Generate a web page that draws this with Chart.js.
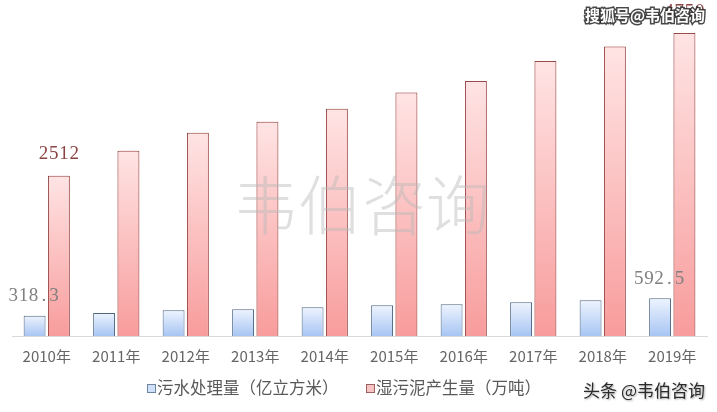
<!DOCTYPE html>
<html>
<head>
<meta charset="utf-8">
<script src="https://cdn.jsdelivr.net/npm/chart.js@4.4.1/dist/chart.umd.min.js"></script>
<style>
    html, body { margin: 0; padding: 0; background: #ffffff; }
    #wrap { width: 717px; height: 412px; position: relative; }
</style>
</head>
<body>
<div id="wrap"><canvas id="sludgeChart" width="717" height="412"></canvas></div>
<script>
    // 年份
    var years = ['2010年', '2011年', '2012年', '2013年', '2014年', '2015年', '2016年', '2017年', '2018年', '2019年'];
    // 污水处理量（亿立方米）
    var sewageValues = [318.3, 362, 405, 420, 450, 482, 498, 530, 560, 592.5];
    // 湿污泥产生量（万吨）
    var sludgeValues = [2512, 2904, 3184, 3360, 3560, 3815, 3998, 4310, 4537, 4750];
    var seriesNames = ['污水处理量（亿立方米）', '湿污泥产生量（万吨）'];

    var CJK = '"Noto Sans CJK SC", "Noto Sans", sans-serif';
    var NUM = '"Liberation Serif", "DejaVu Serif", serif';

    // dégradé vertical propre à chaque barre
    function barGradient(topColor, bottomColor) {
        return function (context) {
            var chart = context.chart;
            var y = chart.scales.y;
            if (!y || !chart.chartArea || context.raw == null) {
                return bottomColor;
            }
            var yTop = y.getPixelForValue(context.raw);
            var yBase = y.getPixelForValue(0);
            if (!isFinite(yTop) || !isFinite(yBase) || yTop === yBase) {
                return bottomColor;
            }
            var g = chart.ctx.createLinearGradient(0, yTop, 0, yBase);
            g.addColorStop(0, topColor);
            g.addColorStop(1, bottomColor);
            return g;
        };
    }

    // chiffres à chasse fixe, façon SimSun
    function drawMono(ctx, text, cx, cy, advance) {
        var startX = cx - (text.length * advance) / 2;
        for (var i = 0; i < text.length; i++) {
            ctx.fillText(text[i], startX + advance * i + advance / 2, cy);
        }
    }

    var glowPlugin = {
        id: 'glow',
        beforeDatasetDraw: function (chart, args) {
            if (args.index === 1) {
                chart.ctx.save();
                chart.ctx.shadowColor = 'rgba(245, 120, 120, 0.45)';
                chart.ctx.shadowBlur = 8;
            }
        },
        afterDatasetDraw: function (chart, args) {
            if (args.index === 1) {
                chart.ctx.restore();
            }
        }
    };

    var decorPlugin = {
        id: 'decor',
        afterDatasetsDraw: function (chart) {
            var ctx = chart.ctx;
            var blue = chart.getDatasetMeta(0).data;
            var red = chart.getDatasetMeta(1).data;
            ctx.save();
            ctx.textAlign = 'center';
            ctx.textBaseline = 'middle';

            // étiquettes de valeurs (première et dernière année)
            ctx.font = '19px ' + NUM;
            ctx.fillStyle = '#8a4444';
            drawMono(ctx, String(sludgeValues[0]), red[0].x, red[0].y - 22, 10.2);
            drawMono(ctx, String(sludgeValues[9]), red[9].x, red[9].y - 21, 10.2);
            ctx.fillStyle = '#7f7f7f';
            drawMono(ctx, String(sewageValues[0]), blue[0].x - 1, blue[0].y - 20, 10.2);
            drawMono(ctx, String(sewageValues[9]), blue[9].x - 1, blue[9].y - 19, 10.2);

            // filigrane central
            ctx.font = '300 64px ' + CJK;
            ctx.fillStyle = 'rgba(185, 185, 185, 0.45)';
            ctx.fillText('韦伯咨询', 362, 205);

            // légende
            var legendY = 388;
            ctx.textAlign = 'left';
            ctx.font = '16.5px ' + CJK;
            var boxes = [
                { x: 147, fill: '#cfe0f8', stroke: '#6d86a3', label: seriesNames[0] },
                { x: 366, fill: '#f6c4c2', stroke: '#9b6060', label: seriesNames[1] }
            ];
            boxes.forEach(function (b) {
                ctx.fillStyle = b.fill;
                ctx.fillRect(b.x, legendY - 4, 8, 8);
                ctx.strokeStyle = b.stroke;
                ctx.lineWidth = 1;
                ctx.strokeRect(b.x + 0.5, legendY - 3.5, 8, 8);
                ctx.fillStyle = '#595959';
                ctx.fillText(b.label, b.x + 10, legendY);
            });

            // marques en coin
            ctx.textAlign = 'right';
            ctx.font = 'bold 15px ' + CJK;
            ctx.lineWidth = 3;
            ctx.strokeStyle = 'rgba(40, 40, 40, 0.85)';
            ctx.strokeText('搜狐号@韦伯咨询', 705, 15);
            ctx.fillStyle = '#ffffff';
            ctx.fillText('搜狐号@韦伯咨询', 705, 15);

            ctx.font = '17px ' + CJK;
            ctx.shadowColor = 'rgba(0, 0, 0, 0.35)';
            ctx.shadowBlur = 2;
            ctx.shadowOffsetX = 1;
            ctx.shadowOffsetY = 1;
            ctx.fillStyle = '#2b2b2b';
            ctx.fillText('头条 @韦伯咨询', 705, 391);
            ctx.restore();
        }
    };

    new Chart(document.getElementById('sludgeChart').getContext('2d'), {
        type: 'bar',
        data: {
            labels: years,
            datasets: [
                {
                    label: seriesNames[0],
                    data: sewageValues,
                    backgroundColor: barGradient('#eef4fe', '#a7c5f3'),
                    borderColor: '#4e6884',
                    borderWidth: 1,
                    barPercentage: 0.9,
                    categoryPercentage: 0.7
                },
                {
                    label: seriesNames[1],
                    data: sludgeValues,
                    backgroundColor: barGradient('#ffe4e4', '#f89c9c'),
                    borderColor: '#84423f',
                    borderWidth: 1,
                    barPercentage: 0.9,
                    categoryPercentage: 0.7
                }
            ]
        },
        options: {
            responsive: false,
            animation: false,
            layout: {
                padding: { top: 17, left: 12, right: 10, bottom: 44 }
            },
            plugins: {
                legend: { display: false },
                tooltip: { enabled: false },
                title: { display: false }
            },
            scales: {
                x: {
                    grid: { display: false },
                    border: { display: true, color: '#d9d9d9', width: 1 },
                    ticks: {
                        color: '#666666',
                        padding: 3,
                        maxRotation: 0,
                        font: { size: 15, family: CJK }
                    }
                },
                y: {
                    display: false,
                    beginAtZero: true,
                    min: 0,
                    max: 5000
                }
            }
        },
        plugins: [glowPlugin, decorPlugin]
    });
</script>
</body>
</html>
